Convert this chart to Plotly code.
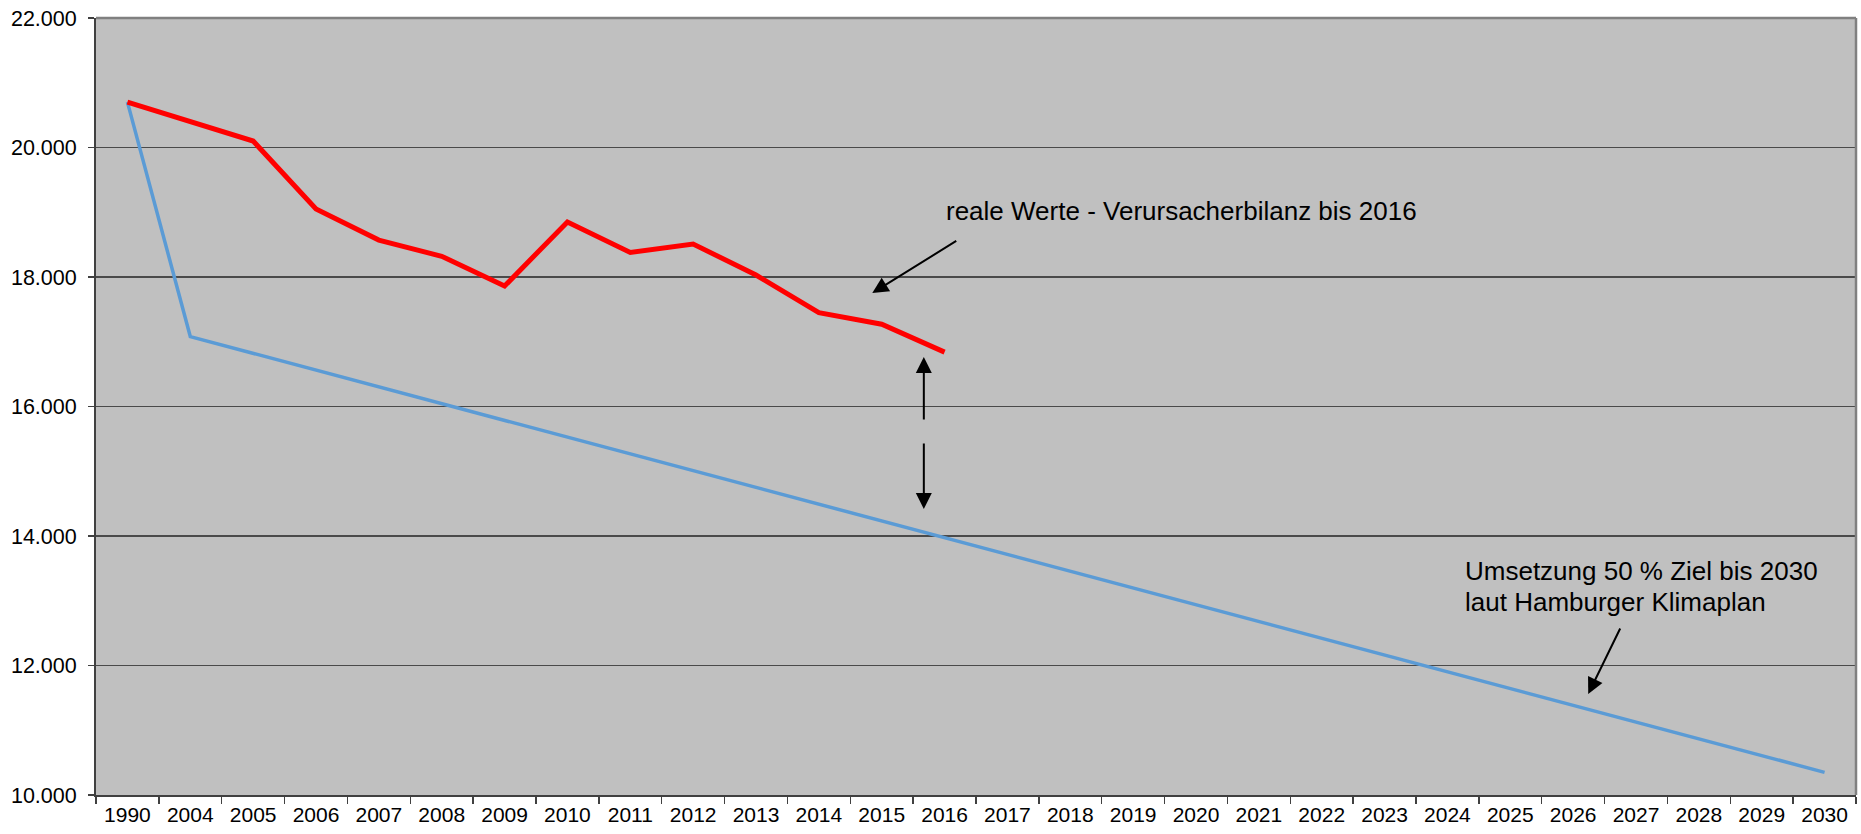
import plotly.graph_objects as go

years = ["1990", "2004", "2005", "2006", "2007", "2008", "2009", "2010", "2011",
         "2012", "2013", "2014", "2015", "2016", "2017", "2018", "2019", "2020",
         "2021", "2022", "2023", "2024", "2025", "2026", "2027", "2028", "2029", "2030"]

real_values = [20700, 20400, 20100, 19050, 18570, 18320, 17860, 18850, 18380,
               18510, 18030, 17450, 17270, 16840] + [None] * 14

target_values = [20700, 17080] + [None] * 25 + [10350]

y_ticks = [10000, 12000, 14000, 16000, 18000, 20000, 22000]
y_tick_labels = ["10.000", "12.000", "14.000", "16.000", "18.000", "20.000", "22.000"]

FONT = "Arial, Liberation Sans, sans-serif"

fig = go.Figure()
fig.add_trace(go.Scatter(x=years, y=target_values, mode="lines", connectgaps=True,
                         line=dict(color="#5B9BD5", width=3.5), showlegend=False,
                         hoverinfo="skip"))
fig.add_trace(go.Scatter(x=years, y=real_values, mode="lines", connectgaps=False,
                         line=dict(color="#FF0000", width=5), showlegend=False,
                         hoverinfo="skip"))

fig.update_layout(
    template="none",
    width=1861, height=834,
    margin=dict(l=96, r=5, t=18, b=39, autoexpand=False),
    paper_bgcolor="white", plot_bgcolor="#C0C0C0",
    font=dict(family=FONT, size=21, color="black"),
    showlegend=False,
    hovermode=False,
    xaxis=dict(type="category", tickson="boundaries", ticks="outside", ticklen=7,
               tickwidth=1.5, tickcolor="#404040", showline=True, linecolor="#404040",
               linewidth=2, showgrid=False, range=[-0.5, 27.5], zeroline=False,
               automargin=False, tickfont=dict(size=21, color="black")),
    yaxis=dict(range=[10000, 22000], tickvals=y_ticks, ticktext=y_tick_labels,
               ticks="outside", ticklen=6, tickwidth=1.5, tickcolor="#404040",
               showline=True, linecolor="#404040", linewidth=2,
               showgrid=True, gridcolor="#4a4a4a", gridwidth=1.5, zeroline=False,
               automargin=False, ticklabelstandoff=7,
               tickfont=dict(size=21.5, color="black")),
)

# top and right plot border (light grey as in the reference)
fig.add_shape(type="line", xref="paper", yref="paper", x0=0, x1=1, y0=1, y1=1,
              line=dict(color="#808080", width=2.5))
fig.add_shape(type="line", xref="paper", yref="paper", x0=1, x1=1, y0=0, y1=1,
              line=dict(color="#808080", width=2.5))

ann_font = dict(family=FONT, size=26, color="black")
fig.add_annotation(x=12.99, y=19020, xref="x", yref="y", text="reale Werte - Verursacherbilanz bis 2016",
                   showarrow=False, xanchor="left", yanchor="middle", font=ann_font)
fig.add_annotation(x=21.25, y=13459, xref="x", yref="y", text="Umsetzung 50 % Ziel bis 2030",
                   showarrow=False, xanchor="left", yanchor="middle", font=ann_font)
fig.add_annotation(x=21.25, y=12981, xref="x", yref="y", text="laut Hamburger Klimaplan",
                   showarrow=False, xanchor="left", yanchor="middle", font=ann_font)

arrows = [
    (11.85, 17753, 13.21, 18571),
    (12.67, 16764, 12.67, 15776),
    (12.67, 14417, 12.67, 15452),
    (23.24, 11560, 23.76, 12595),
]
for hx, hy, tx, ty in arrows:
    fig.add_annotation(x=hx, y=hy, ax=tx, ay=ty, xref="x", yref="y", axref="x", ayref="y",
                       text="", showarrow=True, arrowhead=2, arrowsize=1.6, arrowwidth=2,
                       arrowcolor="black")

fig.write_html("out.html", config={"displayModeBar": False, "staticPlot": True},
               post_script="document.body.style.margin='0';document.body.style.overflow='hidden';")
